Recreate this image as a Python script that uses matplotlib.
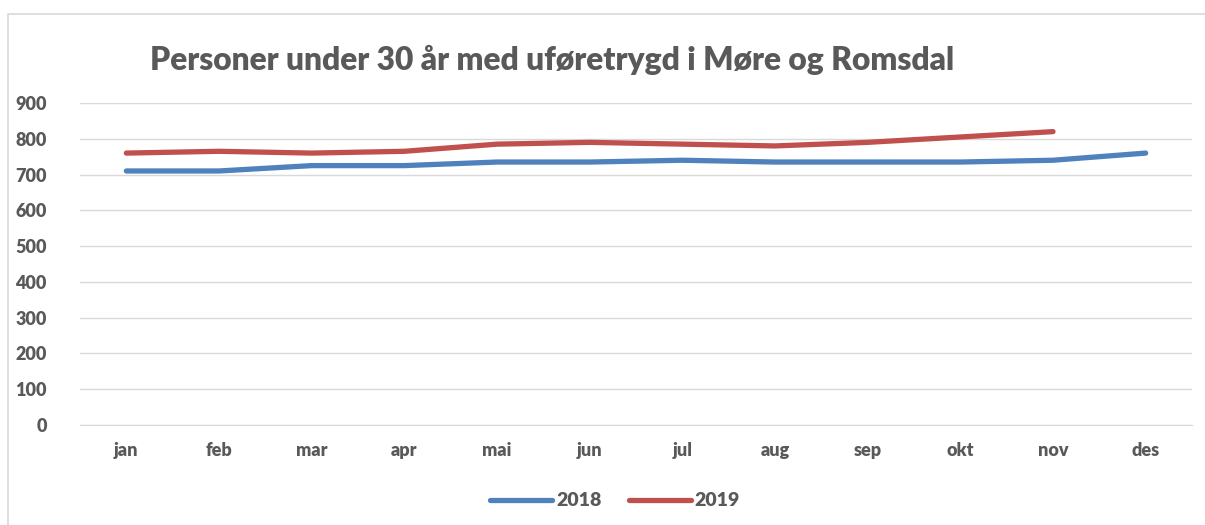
import matplotlib
matplotlib.use("Agg")
import matplotlib.pyplot as plt
from matplotlib.patches import Rectangle

months = ["jan", "feb", "mar", "apr", "mai", "jun", "jul", "aug", "sep", "okt", "nov", "des"]
values_2018 = [710, 710, 725, 725, 735, 735, 740, 735, 735, 735, 740, 760]
values_2019 = [760, 765, 760, 765, 785, 790, 785, 780, 790, 805, 820]

text_color = "#595959"
plt.rcParams["font.family"] = ["Lato", "DejaVu Sans"]

fig = plt.figure(figsize=(12.05, 5.25), dpi=100)
ax = fig.add_axes([80 / 1205, 1 - 425 / 525, 1112 / 1205, 322 / 525])

# chart border
fig.add_artist(Rectangle((8 / 1205, -0.01), 1.0, 1 - 14 / 525 + 0.01, transform=fig.transFigure,
                         fill=False, edgecolor="#d9d9d9", linewidth=1.2))

x = list(range(len(months)))
ax.plot(x, values_2018, color="#4F81BD", linewidth=3.8, solid_capstyle="round", label="2018")
ax.plot(x[:len(values_2019)], values_2019, color="#C0504D", linewidth=3.8, solid_capstyle="round", label="2019")

ax.set_xlim(-0.5, 11.5)
ax.set_ylim(0, 900)
ax.set_yticks(range(0, 901, 100))
ax.set_xticks(x)
ax.set_xticklabels(months)
ax.grid(axis="y", color="#d9d9d9", linewidth=1)
ax.set_axisbelow(True)
for side in ["top", "right", "left"]:
    ax.spines[side].set_visible(False)
ax.spines["bottom"].set_color("#d9d9d9")
ax.tick_params(length=0, labelsize=13, labelcolor=text_color, pad=12)
for lab in ax.get_xticklabels() + ax.get_yticklabels():
    lab.set_fontweight("heavy")
ax.tick_params(axis="y", pad=24)

fig.text(150 / 1205, 1 - 60 / 525, "Personer under 30 år med uføretrygd i Møre og Romsdal",
         fontsize=22.9, fontweight="heavy", color=text_color, va="center")

leg = fig.legend(loc="center", bbox_to_anchor=(615 / 1205, 1 - 501 / 525), ncol=2, frameon=False,
                 prop={"size": 14, "weight": "heavy"}, handlelength=3.2, columnspacing=1.4, handletextpad=0.2)
for t in leg.get_texts():
    t.set_color(text_color)

fig.savefig("out.png", dpi=100)
